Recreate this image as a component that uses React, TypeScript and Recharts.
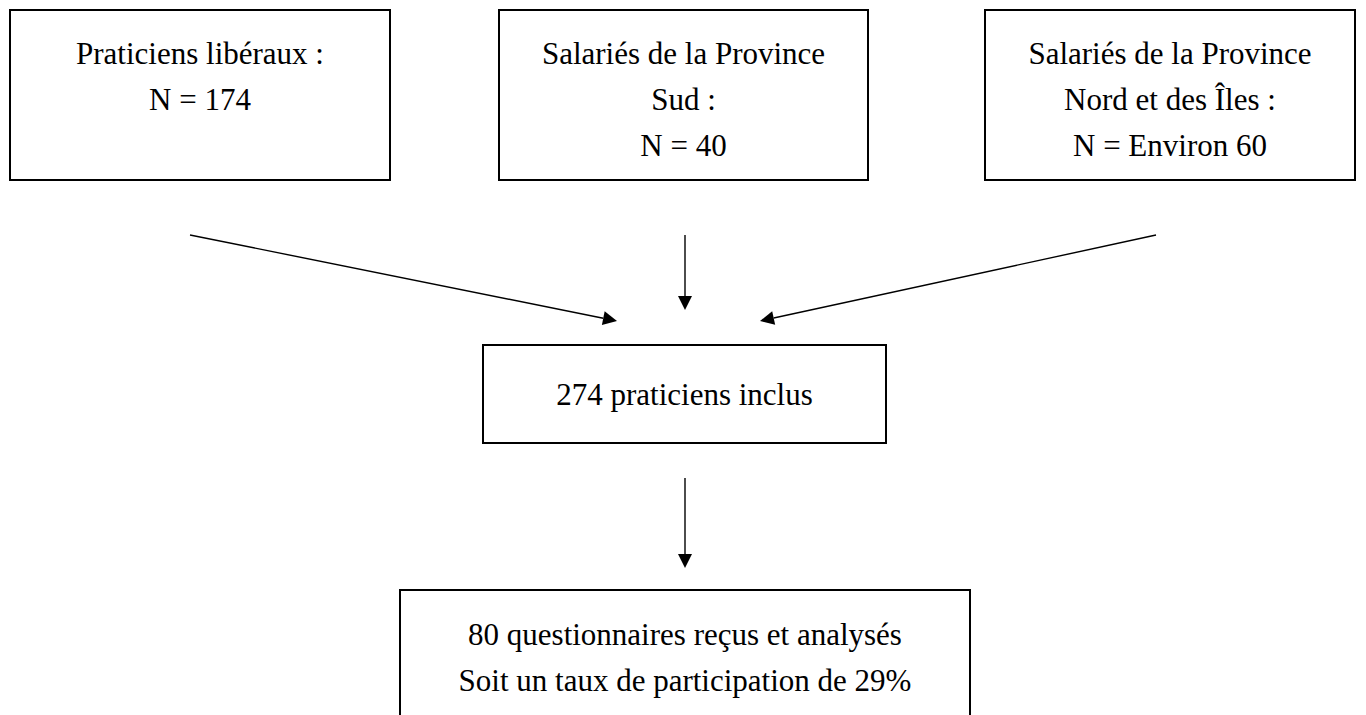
import React from "react";
import {
  ComposedChart,
  XAxis,
  YAxis,
  Scatter,
  ReferenceArea,
  ReferenceLine,
} from "recharts";

// flowchart content
const sourceGroups = [
  ["Praticiens libéraux :"],
  ["Salariés de la Province", "Sud :"],
  ["Salariés de la Province", "Nord et des Îles :"],
];
const sourceCounts = ["174", "40", "Environ 60"];
const includedTotal = 274;
const receivedCount = 80;
const participationRate = 29;

// box geometry in page units (x: 0..1366, y: 0..715 from top)
const boxLeft = [10, 499, 985, 483, 400];
const boxRight = [390, 868, 1355, 886, 970];
const boxTop = [10, 10, 10, 345, 590];
const boxBottom = [180, 180, 180, 443, 740];
const firstBaseline = [64, 64, 64, 405, 645];

// arrows: start and tip
const arrowFrom = [
  [190, 235],
  [685, 235],
  [1156, 235],
  [685, 478],
];
const arrowTo = [
  [617, 321],
  [685, 310],
  [760, 321],
  [685, 568],
];

const W = 1366;
const H = 715;
const FONT = "Liberation Serif, Times New Roman, serif";
const FONT_SIZE = 31;
const LINE_GAP = 46;

const boxLines: string[][] = [
  ...sourceGroups.map((g, i) => [...g, `N = ${sourceCounts[i]}`]),
  [`${includedTotal} praticiens inclus`],
  [
    `${receivedCount} questionnaires reçus et analysés`,
    `Soit un taux de participation de ${participationRate}%`,
  ],
];

const textPoints = boxLines.flatMap((lines, b) =>
  lines.map((text, i) => ({
    x: (boxLeft[b] + boxRight[b]) / 2,
    y: firstBaseline[b] + i * LINE_GAP,
    text,
  }))
);

const TextShape = (props: any) => {
  const { cx, cy, payload } = props;
  return (
    <text
      x={cx}
      y={cy}
      textAnchor="middle"
      fontFamily={FONT}
      fontSize={FONT_SIZE}
      fill="#000"
      style={{ fontFamily: FONT }}
    >
      {payload.text}
    </text>
  );
};

const ArrowShape = (props: any) => {
  const { x1, y1, x2, y2 } = props;
  const dx = x2 - x1;
  const dy = y2 - y1;
  const len = Math.sqrt(dx * dx + dy * dy);
  const ux = dx / len;
  const uy = dy / len;
  const head = 14;
  const half = 7;
  const bx = x2 - ux * head;
  const by = y2 - uy * head;
  const pts = `${x2},${y2} ${bx - uy * half},${by + ux * half} ${bx + uy * half},${by - ux * half}`;
  return (
    <g>
      <line x1={x1} y1={y1} x2={bx} y2={by} stroke="#000" strokeWidth={1.4} />
      <polygon points={pts} fill="#000" />
    </g>
  );
};

export default function App() {
  return (
    <div
      style={{
        position: "absolute",
        left: 0,
        top: 0,
        width: W,
        height: H,
        background: "#fff",
      }}
    >
      <ComposedChart
        width={W}
        height={H}
        margin={{ top: 0, right: 0, bottom: 0, left: 0 }}
      >
        <XAxis type="number" dataKey="x" domain={[0, W]} allowDataOverflow hide />
        <YAxis
          type="number"
          dataKey="y"
          domain={[0, H]}
          allowDataOverflow
          reversed
          hide
        />
        {boxLeft.map((l, i) => (
          <ReferenceArea
            key={`box-${i}`}
            x1={l}
            x2={boxRight[i]}
            y1={boxTop[i]}
            y2={boxBottom[i]}
            fill="#fff"
            fillOpacity={0}
            stroke="#000"
            strokeWidth={2}
            ifOverflow="visible"
          />
        ))}
        {arrowFrom.map((f, i) => (
          <ReferenceLine
            key={`arrow-${i}`}
            segment={[
              { x: f[0], y: f[1] },
              { x: arrowTo[i][0], y: arrowTo[i][1] },
            ]}
            ifOverflow="visible"
            shape={ArrowShape}
          />
        ))}
        <Scatter
          data={textPoints}
          dataKey="y"
          shape={TextShape}
          isAnimationActive={false}
        />
      </ComposedChart>
    </div>
  );
}
